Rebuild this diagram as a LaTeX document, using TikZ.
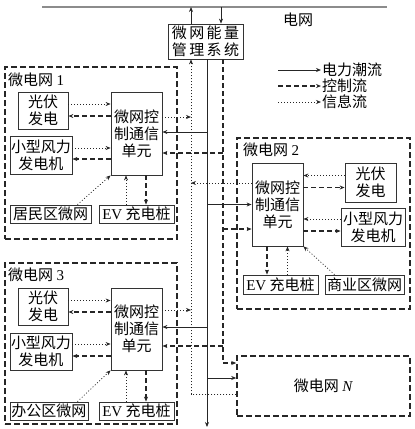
\documentclass[tikz,border=0pt]{standalone}
\usepackage{fontspec}
\setmainfont{Liberation Serif}
\newfontfamily\cjk{Noto Sans CJK SC}
\newfontfamily\cjkwide[LetterSpace=16]{Noto Sans CJK SC}
\usepackage{tikz}
\usetikzlibrary{arrows.meta, positioning}
\tikzstyle{devbox} = [rectangle, draw=black!80, line width=0.8pt, inner sep=0pt, align=center, text=black, font=\cjk\fontsize{15}{17}\selectfont]
\tikzstyle{mgbox} = [rectangle, draw=black!85, line width=1.5pt, dash pattern=on 6pt off 3pt, inner sep=0pt]
\tikzstyle{mgtitle} = [anchor=west, inner sep=0pt, text=black, font=\cjk\fontsize{15}{17}\selectfont]
\tikzstyle{legtext} = [anchor=west, inner sep=1pt, text=black, font=\cjk\fontsize{15}{17}\selectfont]
\tikzstyle{gridline} = [draw=black!45, line width=1.5pt]
\tikzstyle{power} = [draw=black!85, line width=0.8pt, -{Stealth[length=5pt,width=4pt]}]
\tikzstyle{ctrl} = [draw=black!85, line width=1.3pt, dash pattern=on 5pt off 3pt, -{Stealth[length=5pt,width=4pt]}]
\tikzstyle{info} = [draw=black!85, line width=0.7pt, dash pattern=on 1pt off 2pt, -{Stealth[length=5pt,width=4pt]}]
\begin{document}
\begin{tikzpicture}[x=1pt, y=-1pt]
\useasboundingbox (0,0) rectangle (415,429);

% grid and energy management system
\coordinate (gl) at (42,7);
\coordinate (gr) at (387,7);
\draw [gridline] (gl) -- (gr);
\node (gridt) [legtext] at (282,20) {电网};
\node (ems) [devbox, font=\cjkwide\fontsize{15}{17}\selectfont, minimum width=75pt, minimum height=35pt] at (205.5,41.5) {微网能量\\管理系统};
\draw [power] ([xshift=-14.5pt]ems.north) -- ([xshift=-14.5pt]ems.north |- gl);
\draw [power] ([xshift=15.5pt]ems.north |- gl) -- ([xshift=15.5pt]ems.north);

% legend
\coordinate (lg1) at (278,70);
\coordinate (lg2) at (278,86);
\coordinate (lg3) at (278,102);
\node (lg1t) [legtext] at (321,70) {电力潮流};
\node (lg2t) [legtext] at (321,86) {控制流};
\node (lg3t) [legtext] at (321,102) {信息流};
\draw [power] (lg1) -- (lg1t.west);
\draw [ctrl] (lg2) -- (lg2t.west);
\draw [info] (lg3) -- (lg3t.west);

% microgrid 1
\node (mg1) [mgbox, minimum width=172pt, minimum height=172pt] at (91,153) {};
\node (mg1t) [mgtitle] at (8,80) {微电网 \textrm{1}};
\node (pv1) [devbox, minimum width=50pt, minimum height=37pt] at (43,110.5) {光伏\\发电};
\node (cu1) [devbox, minimum width=51pt, minimum height=83pt] at (136.5,133.5) {微网控\\制通信\\单元};
\node (wd1) [devbox, minimum width=62pt, minimum height=38pt] at (41,155) {小型风力\\发电机};
\node (res1) [devbox, minimum width=81pt, minimum height=18pt] at (50.5,214) {居民区微网};
\node (ev1) [devbox, minimum width=75pt, minimum height=18pt] at (136.5,214) {\textrm{EV} 充电桩};

% microgrid 2
\node (mg2) [mgbox, minimum width=173pt, minimum height=171pt] at (323.5,223.5) {};
\node (mg2t) [mgtitle] at (243,150) {微电网 \textrm{2}};
\node (cu2) [devbox, minimum width=51pt, minimum height=83pt] at (277.5,204.5) {微网控\\制通信\\单元};
\node (pv2) [devbox, minimum width=51pt, minimum height=39pt] at (370.5,182.5) {光伏\\发电};
\node (wd2) [devbox, minimum width=64pt, minimum height=38pt] at (373,227) {小型风力\\发电机};
\node (ev2) [devbox, minimum width=75pt, minimum height=19pt] at (280.5,284.5) {\textrm{EV} 充电桩};
\node (com2) [devbox, minimum width=79pt, minimum height=19pt] at (364.5,284.5) {商业区微网};

% microgrid 3
\node (mg3) [mgbox, minimum width=172pt, minimum height=161pt] at (91,343.5) {};
\node (mg3t) [mgtitle] at (8,275) {微电网 \textrm{3}};
\node (pv3) [devbox, minimum width=50pt, minimum height=37pt] at (43,306.5) {光伏\\发电};
\node (cu3) [devbox, minimum width=51pt, minimum height=82pt] at (136.5,329) {微网控\\制通信\\单元};
\node (wd3) [devbox, minimum width=62pt, minimum height=37pt] at (41,351.5) {小型风力\\发电机};
\node (off3) [devbox, minimum width=78pt, minimum height=18pt] at (49,411) {办公区微网};
\node (ev3) [devbox, minimum width=75pt, minimum height=18pt] at (136.5,411) {\textrm{EV} 充电桩};

% microgrid N
\node (mgN) [mgbox, minimum width=173pt, minimum height=60pt, font=\cjk\fontsize{15}{17}\selectfont] at (323.5,386) {微电网 \textrm{\itshape N}};

% buses
\coordinate (ibus) at ([xshift=-14.5pt]ems.south);
\coordinate (pbus) at ([xshift=1.5pt]ems.south);
\coordinate (cbus) at ([xshift=17.5pt]ems.south);
\coordinate (pend) at (207,427);
\draw [info] ([yshift=-8pt]mgN.west) -| (ibus);
\draw [power] (pbus) -- (pend);
\draw [ctrl] (cbus) |- ([yshift=23pt]mgN.west);
\draw [power] ([yshift=8pt]mgN.west -| pbus) -- ([yshift=8pt]mgN.west);

% links in microgrid 1
\draw [info] ([yshift=6.5pt]pv1.east) -- ([yshift=29.5pt]cu1.west);
\draw [ctrl] ([yshift=17.5pt]cu1.west) -- ([yshift=-5.5pt]pv1.east);
\draw [info] ([yshift=7pt]wd1.east) -- ([yshift=-14.5pt]cu1.west);
\draw [ctrl] ([yshift=-25.5pt]cu1.west) -- ([yshift=-4pt]wd1.east);
\draw [info] ([xshift=-14pt]res1.north east) -- (cu1.south west);
\draw [info] ([xshift=-10.5pt]ev1.north) -- ([xshift=-10.5pt]cu1.south);
\draw [ctrl] ([xshift=9.5pt]cu1.south) -- ([xshift=9.5pt]ev1.north);
\draw [info] ([yshift=16.5pt]cu1.east) -- ([yshift=16.5pt]cu1.east -| ibus);
\draw [power] ([yshift=1.5pt]cu1.east -| pbus) -- ([yshift=1.5pt]cu1.east);
\draw [ctrl] ([yshift=-19.5pt]cu1.east -| cbus) -- ([yshift=-19.5pt]cu1.east);

% links in microgrid 2
\draw [info] ([yshift=21.5pt]cu2.west) -- ([yshift=21.5pt]cu2.west -| ibus);
\draw [power] (cu2.west -| pbus) -- (cu2.west);
\draw [ctrl] ([yshift=-24.5pt]cu2.west -| cbus) -- ([yshift=-24.5pt]cu2.west);
\draw [info] ([yshift=7pt]pv2.west) -- ([yshift=29pt]cu2.east);
\draw [ctrl] ([yshift=17pt]cu2.east) -- ([yshift=-5pt]pv2.west);
\draw [info] ([yshift=8pt]wd2.west) -- ([yshift=-14.5pt]cu2.east);
\draw [ctrl] ([yshift=-26.5pt]cu2.east) -- ([yshift=-4pt]wd2.west);
\draw [ctrl] ([xshift=-10.5pt]cu2.south) -- ([xshift=-13.5pt]ev2.north);
\draw [info] ([xshift=7pt]ev2.north) -- ([xshift=10pt]cu2.south);
\draw [info] ([xshift=10pt]com2.north west) -- (cu2.south east);

% links in microgrid 3
\draw [info] ([yshift=6pt]pv3.east) -- ([yshift=28.5pt]cu3.west);
\draw [ctrl] ([yshift=17pt]cu3.west) -- ([yshift=-5.5pt]pv3.east);
\draw [info] ([yshift=7.5pt]wd3.east) -- ([yshift=-15pt]cu3.west);
\draw [ctrl] ([yshift=-27pt]cu3.west) -- ([yshift=-4.5pt]wd3.east);
\draw [info] ([xshift=-11pt]off3.north east) -- (cu3.south west);
\draw [info] ([xshift=-10.5pt]ev3.north) -- ([xshift=-10.5pt]cu3.south);
\draw [ctrl] ([xshift=9.5pt]cu3.south) -- ([xshift=9.5pt]ev3.north);
\draw [info] ([yshift=19pt]cu3.east) -- ([yshift=19pt]cu3.east -| ibus);
\draw [power] ([yshift=2pt]cu3.east -| pbus) -- ([yshift=2pt]cu3.east);
\draw [ctrl] ([yshift=-17pt]cu3.east -| cbus) -- ([yshift=-17pt]cu3.east);
\end{tikzpicture}
\end{document}
